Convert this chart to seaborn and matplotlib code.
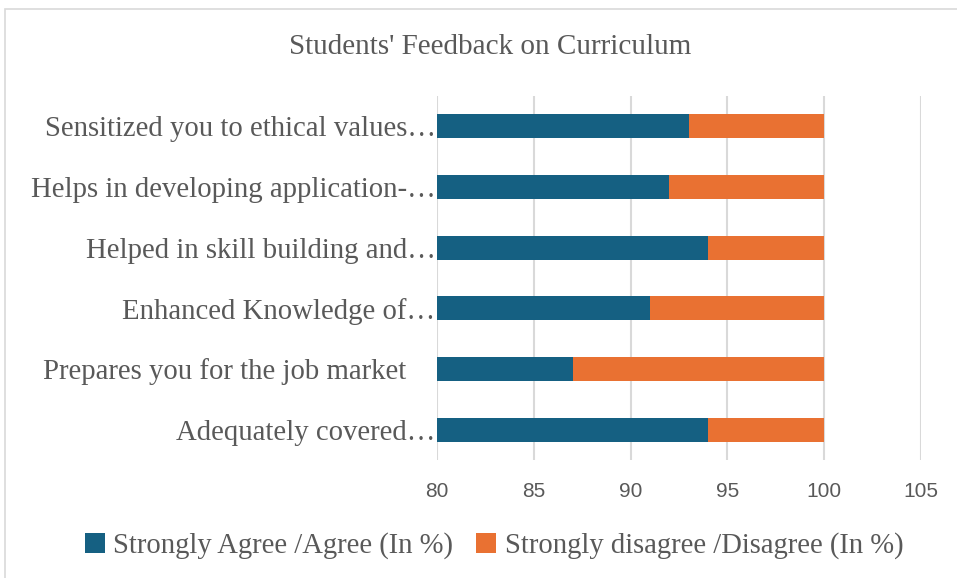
import matplotlib
matplotlib.use("Agg")
import matplotlib.pyplot as plt
import seaborn as sns
import pandas as pd
from matplotlib.patches import Patch, Rectangle

categories = [
    "Sensitized you to ethical values…",
    "Helps in developing application-…",
    "Helped in skill building and…",
    "Enhanced Knowledge of…",
    "Prepares you for the job market    ",
    "Adequately covered…",
]
agree = [93, 92, 94, 91, 87, 94]
disagree = [7, 8, 6, 9, 13, 6]
series_names = ["Strongly Agree /Agree (In %)", "Strongly disagree /Disagree (In %)"]
x_ticks = [80, 85, 90, 95, 100, 105]

BLUE = "#156082"
ORANGE = "#E97132"
GRAY = "#595959"
SERIF = "Liberation Serif"
SANS = "Liberation Sans"

df = pd.DataFrame({"cat": categories, "agree": agree, "disagree": disagree})
df["total"] = df["agree"] + df["disagree"]

sns.set_theme(style="white")
fig = plt.figure(figsize=(9.57, 5.78), dpi=100)
W, H = 957, 578
ax = fig.add_axes([437 / W, 1 - 460 / H, (921 - 437) / W, (460 - 96) / H])

sns.barplot(data=df, y="cat", x="total", color=ORANGE, orient="h", width=0.4,
            ax=ax, saturation=1, edgecolor="none")
sns.barplot(data=df, y="cat", x="agree", color=BLUE, orient="h", width=0.4,
            ax=ax, saturation=1, edgecolor="none")

ax.set_xlim(80, 105)
ax.set_ylim(5.5, -0.5)
ax.set_xticks(x_ticks)
ax.set_xticklabels([str(t) for t in x_ticks], fontfamily=SANS, fontsize=15, color=GRAY)
ax.set_yticks(range(len(categories)))
ax.set_yticklabels(categories, fontfamily=SERIF, fontsize=20.7, color=GRAY)
ax.tick_params(axis="x", length=0, pad=16)
ax.tick_params(axis="y", length=0, pad=1)
ax.set_xlabel("")
ax.set_ylabel("")
for s in ax.spines.values():
    s.set_visible(False)
ax.xaxis.grid(True, color="#d9d9d9", linewidth=1.5)
ax.yaxis.grid(False)
ax.set_axisbelow(True)

fig.text(490 / W, 1 - 47 / H, "Students' Feedback on Curriculum", ha="center", va="center",
         fontfamily=SERIF, fontsize=21, color=GRAY)

handles = [Patch(facecolor=BLUE, edgecolor="none"), Patch(facecolor=ORANGE, edgecolor="none")]
fig.legend(handles, series_names, loc="center", bbox_to_anchor=(494 / W, 1 - 546 / H),
           ncol=2, frameon=False, prop={"family": SERIF, "size": 20.6},
           labelcolor=GRAY, handlelength=0.7, handleheight=0.7, handletextpad=0.3,
           columnspacing=0.8)

fig.patches.append(Rectangle((5 / W, -0.1), 1.1, (1 - 9 / H) + 0.1, transform=fig.transFigure,
                             fill=False, edgecolor="#d9d9d9", linewidth=1.2))

fig.savefig("out.png", dpi=100)
